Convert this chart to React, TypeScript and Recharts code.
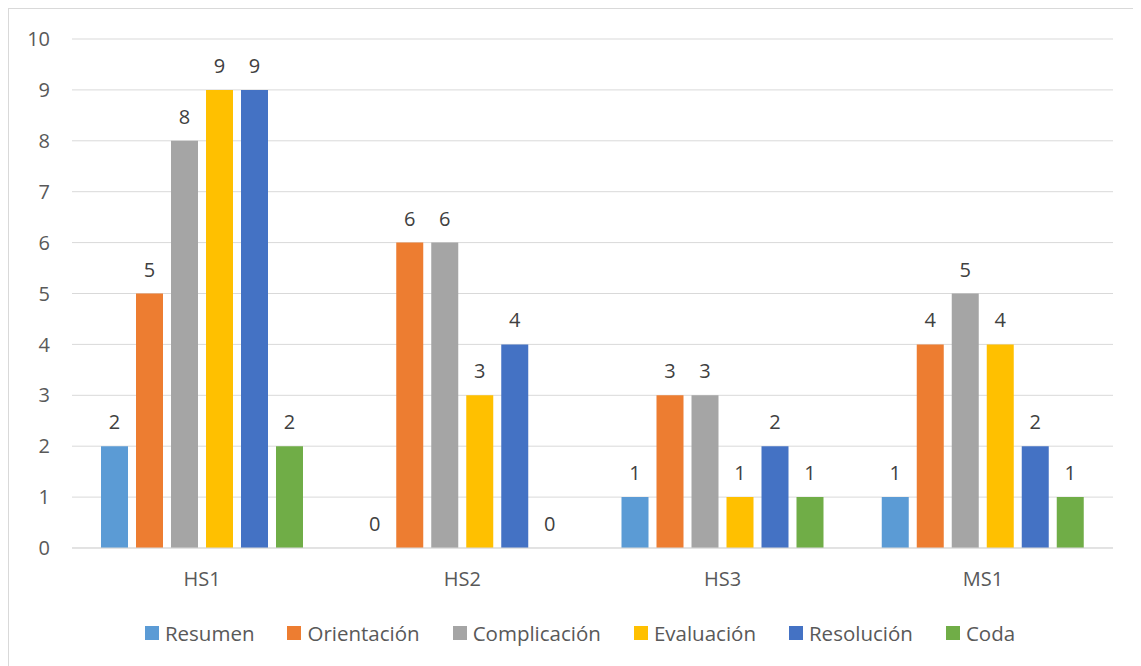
import React from 'react';
import { BarChart, Bar, XAxis, YAxis, CartesianGrid, Legend, LabelList } from 'recharts';

const categories = ['HS1', 'HS2', 'HS3', 'MS1'];
const resumen = [2, 0, 1, 1];
const orientacion = [5, 6, 3, 4];
const complicacion = [8, 6, 3, 5];
const evaluacion = [9, 3, 1, 4];
const resolucion = [9, 4, 2, 2];
const coda = [2, 0, 1, 1];
const yTicks = [0, 1, 2, 3, 4, 5, 6, 7, 8, 9, 10];
const seriesNames = ['Resumen', 'Orientación', 'Complicación', 'Evaluación', 'Resolución', 'Coda'];
const seriesColors = ['#5B9BD5', '#ED7D31', '#A5A5A5', '#FFC000', '#4472C4', '#70AD47'];
const seriesValues = [resumen, orientacion, complicacion, evaluacion, resolucion, coda];

const data = categories.map((c, i) => {
  const row: Record<string, string | number> = { name: c };
  seriesNames.forEach((s, k) => {
    row[s] = seriesValues[k][i];
  });
  return row;
});

const FONT = '"Open Sans", "Noto Sans", sans-serif';
const TEXT = '#595959';

const renderLegend = (props: any) => {
  const payload = [...(props.payload || [])].sort(
    (a: any, b: any) => seriesNames.indexOf(a.value) - seriesNames.indexOf(b.value)
  );
  return (
    <div
      style={{
        display: 'flex',
        justifyContent: 'center',
        alignItems: 'center',
        fontFamily: FONT,
        fontSize: 20.5,
        color: TEXT,
        lineHeight: '28px',
      }}
    >
      {payload.map((entry: any, i: number) => (
        <div key={entry.value} style={{ display: 'flex', alignItems: 'center', marginLeft: i ? 33 : 0 }}>
          <span
            style={{
              width: 14,
              height: 14,
              background: entry.color,
              marginRight: 6,
              display: 'inline-block',
            }}
          />
          <span>{entry.value}</span>
        </div>
      ))}
    </div>
  );
};

const renderValueLabel = (p: any) => {
  const { x, y, width, value } = p;
  if (x == null || y == null) return null;
  return (
    <text
      x={Number(x) + Number(width) / 2}
      y={Number(y) - 17}
      textAnchor="middle"
      fill="#404040"
      fontSize={20}
      fontFamily={FONT}
    >
      {value}
    </text>
  );
};

export default function App() {
  return (
    <div style={{ width: 1133, height: 658, overflow: 'hidden', position: 'relative', fontFamily: FONT }}>
      <div
        style={{
          position: 'absolute',
          left: 0,
          top: 0,
          width: 1144,
          height: 670,
          border: '1px solid #d9d9d9',
          boxSizing: 'border-box',
        }}
      />
      <div style={{ position: 'absolute', left: 0, top: 0 }}>
        <BarChart
          width={1144}
          height={670}
          data={data}
          margin={{ top: 31, right: 39, bottom: 100, left: 0 }}
          barSize={27}
          barGap={8}
        >
          <CartesianGrid vertical={false} stroke="#d9d9d9" strokeWidth={1} />
          <XAxis
            dataKey="name"
            height={30}
            axisLine={{ stroke: '#d9d9d9' }}
            tickLine={false}
            tickMargin={18}
            tick={{ fill: TEXT, fontSize: 20 }}
          />
          <YAxis
            width={64}
            domain={[0, 10]}
            ticks={yTicks}
            interval={0}
            axisLine={false}
            tickLine={false}
            tickMargin={16}
            tick={{ fill: TEXT, fontSize: 20 }}
          />
          <Legend
            layout="horizontal"
            verticalAlign="middle"
            align="center"
            content={renderLegend}
            wrapperStyle={{ top: 611, left: 0, width: 1144 }}
          />
          {seriesNames.map((s, k) => (
            <Bar
              key={s}
              dataKey={s}
              fill={seriesColors[k]}
              isAnimationActive={false}
              minPointSize={(v: any) => (v === 0 ? 0.01 : 0)}
            >
              <LabelList dataKey={s} content={renderValueLabel} />
            </Bar>
          ))}
        </BarChart>
      </div>
    </div>
  );
}
